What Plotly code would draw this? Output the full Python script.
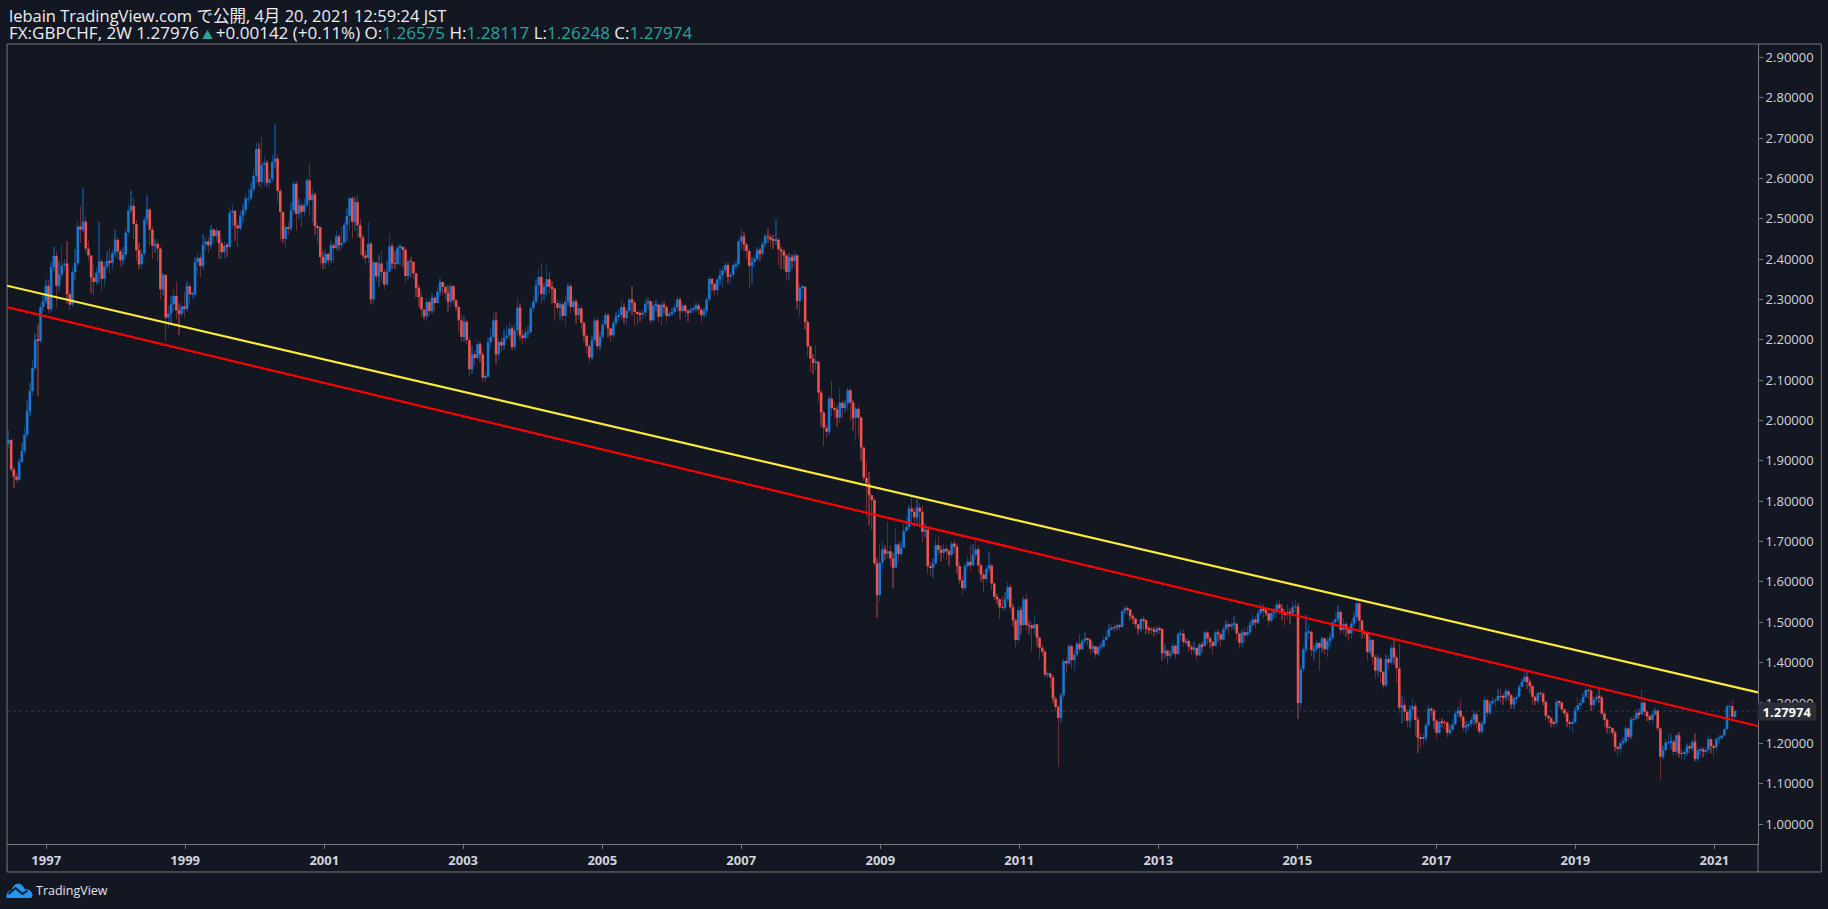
import pandas as pd
import plotly.graph_objects as go

# One value per 2W bar
closes = [
    1.952,1.878,1.861,1.853,1.897,1.924,1.965,2.023,2.073,2.130,
    2.200,2.197,2.281,2.296,2.334,2.276,2.380,2.408,2.334,2.362,
    2.384,2.389,2.313,2.287,2.368,2.390,2.481,2.473,2.493,2.426,
    2.409,2.354,2.343,2.366,2.394,2.351,2.382,2.396,2.390,2.415,
    2.448,2.419,2.397,2.411,2.466,2.521,2.532,2.487,2.422,2.387,
    2.413,2.498,2.523,2.473,2.433,2.438,2.426,2.325,2.361,2.255,
    2.265,2.288,2.309,2.273,2.264,2.283,2.276,2.333,2.313,2.314,
    2.392,2.403,2.383,2.436,2.444,2.434,2.473,2.457,2.470,2.440,
    2.417,2.433,2.430,2.515,2.520,2.483,2.476,2.508,2.521,2.550,
    2.551,2.572,2.607,2.673,2.591,2.634,2.639,2.589,2.598,2.641,
    2.649,2.569,2.517,2.450,2.479,2.477,2.520,2.587,2.512,2.533,
    2.517,2.535,2.595,2.546,2.560,2.482,2.479,2.405,2.390,2.413,
    2.397,2.434,2.427,2.456,2.434,2.440,2.485,2.507,2.551,2.492,
    2.541,2.484,2.453,2.409,2.403,2.438,2.300,2.392,2.357,2.389,
    2.368,2.337,2.369,2.432,2.389,2.388,2.428,2.430,2.423,2.358,
    2.394,2.393,2.365,2.328,2.306,2.275,2.258,2.294,2.271,2.304,
    2.291,2.319,2.343,2.331,2.316,2.294,2.333,2.298,2.281,2.248,
    2.207,2.245,2.199,2.127,2.164,2.155,2.189,2.164,2.106,2.108,
    2.193,2.207,2.248,2.164,2.195,2.186,2.205,2.211,2.228,2.182,
    2.223,2.280,2.211,2.204,2.218,2.219,2.278,2.295,2.335,2.356,
    2.313,2.331,2.350,2.331,2.327,2.291,2.279,2.288,2.259,2.294,
    2.333,2.281,2.295,2.261,2.278,2.242,2.210,2.184,2.156,2.199,
    2.248,2.184,2.207,2.238,2.261,2.228,2.211,2.242,2.258,2.261,
    2.281,2.254,2.272,2.300,2.292,2.269,2.264,2.262,2.267,2.290,
    2.296,2.248,2.285,2.287,2.257,2.287,2.281,2.259,2.265,2.269,
    2.280,2.300,2.271,2.285,2.271,2.267,2.275,2.277,2.285,2.275,
    2.261,2.271,2.300,2.351,2.339,2.323,2.349,2.360,2.372,2.385,
    2.356,2.361,2.385,2.387,2.444,2.456,2.436,2.420,2.383,2.393,
    2.401,2.422,2.413,2.438,2.456,2.455,2.448,2.447,2.448,2.424,
    2.419,2.409,2.368,2.405,2.395,2.409,2.296,2.329,2.331,2.244,
    2.184,2.153,2.143,2.145,2.069,2.020,1.982,1.972,2.054,2.031,
    2.027,2.007,2.044,2.031,2.042,2.075,2.044,2.006,2.029,2.007,
    1.933,1.858,1.844,1.815,1.803,1.646,1.567,1.648,1.681,1.670,
    1.676,1.658,1.635,1.693,1.669,1.685,1.726,1.736,1.782,1.774,
    1.760,1.784,1.774,1.724,1.730,1.639,1.635,1.646,1.691,1.679,
    1.672,1.682,1.676,1.667,1.695,1.687,1.639,1.604,1.585,1.639,
    1.650,1.641,1.667,1.681,1.641,1.618,1.607,1.633,1.641,1.596,
    1.563,1.557,1.537,1.536,1.557,1.587,1.537,1.505,1.456,1.530,
    1.493,1.557,1.493,1.492,1.485,1.495,1.462,1.437,1.427,1.371,
    1.373,1.363,1.311,1.290,1.263,1.319,1.404,1.398,1.441,1.406,
    1.420,1.447,1.433,1.454,1.459,1.457,1.434,1.441,1.421,1.439,
    1.440,1.456,1.464,1.483,1.487,1.486,1.492,1.489,1.528,1.534,
    1.532,1.515,1.509,1.495,1.483,1.507,1.505,1.484,1.483,1.482,
    1.476,1.484,1.483,1.423,1.430,1.417,1.423,1.442,1.421,1.470,
    1.472,1.451,1.454,1.439,1.432,1.437,1.418,1.445,1.441,1.475,
    1.460,1.451,1.441,1.475,1.470,1.457,1.483,1.495,1.489,1.495,
    1.496,1.472,1.449,1.475,1.468,1.476,1.493,1.507,1.499,1.522,
    1.534,1.530,1.522,1.504,1.523,1.526,1.544,1.534,1.526,1.518,
    1.526,1.522,1.538,1.539,1.300,1.384,1.433,1.475,1.476,1.431,
    1.433,1.449,1.437,1.460,1.433,1.454,1.462,1.500,1.508,1.526,
    1.481,1.495,1.482,1.472,1.497,1.512,1.547,1.504,1.476,1.472,
    1.426,1.456,1.414,1.380,1.410,1.377,1.344,1.409,1.400,1.437,
    1.413,1.386,1.288,1.295,1.278,1.256,1.284,1.292,1.258,1.214,
    1.212,1.214,1.245,1.286,1.281,1.256,1.226,1.253,1.252,1.251,
    1.226,1.234,1.247,1.274,1.281,1.266,1.239,1.245,1.248,1.258,
    1.272,1.251,1.229,1.248,1.307,1.276,1.299,1.305,1.307,1.317,
    1.315,1.314,1.329,1.319,1.296,1.311,1.315,1.340,1.352,1.365,
    1.352,1.342,1.315,1.305,1.324,1.323,1.303,1.268,1.262,1.251,
    1.250,1.303,1.301,1.284,1.274,1.253,1.248,1.253,1.282,1.295,
    1.300,1.315,1.332,1.330,1.295,1.309,1.315,1.314,1.274,1.258,
    1.239,1.238,1.226,1.191,1.186,1.201,1.204,1.237,1.216,1.259,
    1.260,1.276,1.272,1.301,1.278,1.267,1.258,1.272,1.281,1.237,
    1.167,1.183,1.202,1.203,1.204,1.179,1.220,1.175,1.174,1.177,
    1.193,1.187,1.204,1.161,1.183,1.185,1.179,1.183,1.210,1.193,
    1.190,1.211,1.212,1.219,1.235,1.291,1.292,1.26575,1.27974,
]
highs = [
    1.976,1.955,1.885,1.870,1.905,1.945,1.985,2.050,2.095,2.150,
    2.215,2.238,2.292,2.315,2.350,2.349,2.392,2.430,2.420,2.395,
    2.435,2.400,2.444,2.320,2.380,2.425,2.497,2.532,2.577,2.505,
    2.445,2.400,2.385,2.380,2.492,2.400,2.395,2.420,2.430,2.425,
    2.473,2.455,2.425,2.430,2.480,2.535,2.570,2.552,2.497,2.440,
    2.425,2.505,2.558,2.527,2.482,2.450,2.445,2.430,2.365,2.325,
    2.285,2.310,2.325,2.344,2.290,2.295,2.320,2.345,2.340,2.320,
    2.405,2.415,2.412,2.462,2.455,2.452,2.484,2.476,2.478,2.472,
    2.450,2.445,2.440,2.530,2.535,2.515,2.492,2.520,2.535,2.560,
    2.574,2.590,2.625,2.688,2.688,2.704,2.655,2.645,2.615,2.660,
    2.734,2.660,2.575,2.500,2.485,2.490,2.540,2.595,2.592,2.550,
    2.540,2.550,2.600,2.636,2.575,2.565,2.490,2.480,2.420,2.425,
    2.415,2.445,2.440,2.470,2.460,2.480,2.492,2.525,2.556,2.555,
    2.555,2.558,2.500,2.460,2.420,2.492,2.442,2.400,2.392,2.410,
    2.420,2.375,2.395,2.463,2.440,2.420,2.435,2.438,2.432,2.430,
    2.400,2.405,2.395,2.340,2.335,2.320,2.270,2.305,2.300,2.315,
    2.310,2.330,2.352,2.345,2.335,2.336,2.340,2.336,2.300,2.285,
    2.262,2.260,2.250,2.205,2.185,2.175,2.200,2.195,2.172,2.120,
    2.205,2.230,2.265,2.268,2.205,2.205,2.225,2.235,2.245,2.235,
    2.240,2.305,2.290,2.225,2.230,2.235,2.285,2.310,2.350,2.375,
    2.391,2.340,2.385,2.368,2.345,2.330,2.300,2.295,2.295,2.310,
    2.340,2.340,2.305,2.300,2.290,2.285,2.245,2.215,2.190,2.210,
    2.255,2.255,2.220,2.250,2.270,2.265,2.230,2.250,2.270,2.275,
    2.300,2.290,2.280,2.305,2.333,2.300,2.272,2.270,2.275,2.300,
    2.305,2.298,2.295,2.300,2.290,2.295,2.295,2.285,2.272,2.280,
    2.290,2.308,2.305,2.292,2.290,2.275,2.282,2.285,2.292,2.290,
    2.280,2.280,2.305,2.358,2.352,2.340,2.355,2.375,2.382,2.395,
    2.390,2.368,2.392,2.395,2.450,2.475,2.467,2.442,2.425,2.405,
    2.410,2.430,2.428,2.445,2.462,2.475,2.462,2.460,2.498,2.452,
    2.430,2.425,2.412,2.415,2.412,2.420,2.412,2.340,2.335,2.332,
    2.250,2.186,2.165,2.186,2.150,2.075,2.025,1.990,2.060,2.097,
    2.045,2.035,2.079,2.050,2.050,2.083,2.080,2.050,2.035,2.035,
    2.010,1.935,1.899,1.873,1.818,1.810,1.660,1.695,1.700,1.690,
    1.749,1.690,1.672,1.732,1.700,1.700,1.745,1.760,1.790,1.809,
    1.785,1.805,1.795,1.790,1.745,1.700,1.650,1.660,1.710,1.712,
    1.690,1.695,1.690,1.680,1.700,1.705,1.695,1.650,1.615,1.645,
    1.665,1.690,1.694,1.703,1.690,1.645,1.625,1.640,1.676,1.645,
    1.600,1.570,1.560,1.565,1.575,1.600,1.595,1.545,1.510,1.540,
    1.537,1.565,1.570,1.505,1.500,1.518,1.492,1.465,1.445,1.430,
    1.380,1.378,1.368,1.318,1.295,1.325,1.410,1.412,1.445,1.445,
    1.430,1.452,1.470,1.460,1.475,1.462,1.460,1.448,1.440,1.445,
    1.450,1.465,1.480,1.495,1.495,1.495,1.497,1.495,1.532,1.540,
    1.540,1.530,1.520,1.510,1.495,1.510,1.515,1.505,1.490,1.488,
    1.488,1.490,1.490,1.485,1.445,1.432,1.430,1.450,1.445,1.475,
    1.482,1.482,1.462,1.458,1.445,1.452,1.435,1.450,1.452,1.480,
    1.478,1.465,1.455,1.480,1.480,1.475,1.490,1.505,1.500,1.500,
    1.515,1.500,1.475,1.482,1.485,1.490,1.503,1.520,1.515,1.530,
    1.548,1.545,1.535,1.525,1.535,1.535,1.552,1.556,1.545,1.532,
    1.545,1.535,1.552,1.555,1.548,1.393,1.440,1.518,1.495,1.480,
    1.445,1.456,1.450,1.465,1.462,1.465,1.472,1.505,1.525,1.543,
    1.530,1.510,1.500,1.492,1.505,1.525,1.555,1.552,1.505,1.480,
    1.475,1.465,1.458,1.420,1.420,1.415,1.380,1.420,1.418,1.445,
    1.456,1.420,1.447,1.319,1.310,1.285,1.295,1.311,1.300,1.265,
    1.225,1.225,1.250,1.295,1.290,1.285,1.260,1.260,1.262,1.258,
    1.255,1.245,1.255,1.280,1.290,1.307,1.270,1.255,1.255,1.265,
    1.280,1.278,1.255,1.255,1.315,1.312,1.305,1.315,1.312,1.335,
    1.336,1.322,1.335,1.332,1.322,1.315,1.322,1.345,1.360,1.383,
    1.378,1.358,1.345,1.318,1.328,1.330,1.326,1.305,1.272,1.265,
    1.258,1.310,1.306,1.305,1.288,1.278,1.256,1.260,1.290,1.315,
    1.310,1.325,1.340,1.338,1.335,1.318,1.322,1.336,1.320,1.278,
    1.262,1.245,1.240,1.232,1.195,1.208,1.215,1.245,1.240,1.265,
    1.270,1.285,1.285,1.332,1.308,1.282,1.270,1.280,1.288,1.285,
    1.240,1.195,1.212,1.225,1.222,1.210,1.225,1.228,1.185,1.185,
    1.200,1.200,1.212,1.225,1.190,1.192,1.190,1.190,1.220,1.212,
    1.198,1.215,1.220,1.225,1.240,1.295,1.299,1.307,1.28117,
]
lows = [
    1.930,1.872,1.833,1.845,1.850,1.895,1.918,1.960,2.010,2.062,
    2.125,2.060,2.190,2.270,2.290,2.265,2.270,2.370,2.280,2.320,
    2.350,2.370,2.290,2.275,2.280,2.350,2.385,2.440,2.465,2.415,
    2.395,2.315,2.310,2.335,2.340,2.320,2.330,2.375,2.365,2.375,
    2.405,2.400,2.380,2.385,2.400,2.460,2.515,2.450,2.395,2.375,
    2.375,2.405,2.485,2.435,2.400,2.415,2.395,2.300,2.310,2.197,
    2.230,2.240,2.270,2.250,2.211,2.258,2.255,2.270,2.290,2.300,
    2.305,2.360,2.355,2.375,2.420,2.415,2.425,2.440,2.445,2.400,
    2.400,2.400,2.405,2.425,2.480,2.445,2.430,2.470,2.490,2.510,
    2.535,2.545,2.565,2.590,2.580,2.575,2.580,2.580,2.575,2.590,
    2.625,2.540,2.445,2.440,2.430,2.460,2.470,2.510,2.470,2.500,
    2.480,2.505,2.530,2.510,2.490,2.460,2.440,2.385,2.375,2.375,
    2.385,2.390,2.390,2.420,2.420,2.425,2.450,2.445,2.470,2.451,
    2.470,2.455,2.410,2.400,2.385,2.390,2.288,2.290,2.345,2.330,
    2.345,2.325,2.335,2.370,2.375,2.375,2.385,2.385,2.380,2.340,
    2.350,2.355,2.350,2.305,2.280,2.255,2.250,2.245,2.260,2.265,
    2.268,2.290,2.310,2.310,2.300,2.270,2.280,2.285,2.272,2.219,
    2.195,2.195,2.190,2.110,2.115,2.135,2.150,2.145,2.095,2.095,
    2.110,2.180,2.200,2.140,2.150,2.170,2.175,2.200,2.200,2.175,
    2.175,2.210,2.200,2.190,2.195,2.205,2.215,2.270,2.290,2.305,
    2.290,2.298,2.310,2.315,2.290,2.248,2.265,2.250,2.248,2.235,
    2.285,2.265,2.270,2.240,2.250,2.225,2.195,2.165,2.145,2.150,
    2.190,2.175,2.175,2.200,2.235,2.205,2.195,2.205,2.235,2.245,
    2.250,2.240,2.235,2.265,2.260,2.235,2.238,2.245,2.250,2.255,
    2.275,2.240,2.245,2.270,2.245,2.235,2.265,2.245,2.255,2.260,
    2.262,2.270,2.250,2.265,2.255,2.245,2.260,2.265,2.270,2.262,
    2.245,2.255,2.258,2.295,2.320,2.310,2.310,2.335,2.330,2.365,
    2.340,2.335,2.350,2.375,2.380,2.425,2.420,2.400,2.328,2.339,
    2.380,2.395,2.395,2.405,2.430,2.440,2.430,2.425,2.435,2.385,
    2.375,2.375,2.345,2.350,2.375,2.380,2.275,2.258,2.300,2.225,
    2.160,2.120,2.115,2.125,2.045,1.985,1.937,1.955,1.965,2.010,
    2.005,1.985,1.995,2.005,2.020,2.025,2.000,1.975,1.949,1.960,
    1.900,1.850,1.761,1.740,1.730,1.640,1.511,1.551,1.630,1.655,
    1.660,1.640,1.584,1.640,1.650,1.665,1.690,1.725,1.730,1.745,
    1.735,1.745,1.735,1.700,1.710,1.620,1.615,1.610,1.640,1.665,
    1.650,1.660,1.655,1.640,1.660,1.670,1.620,1.595,1.570,1.580,
    1.630,1.625,1.640,1.655,1.625,1.600,1.575,1.600,1.625,1.580,
    1.555,1.545,1.509,1.530,1.530,1.550,1.530,1.490,1.439,1.450,
    1.470,1.490,1.480,1.470,1.427,1.470,1.440,1.408,1.415,1.365,
    1.362,1.340,1.300,1.280,1.143,1.251,1.310,1.375,1.395,1.385,
    1.380,1.415,1.425,1.430,1.448,1.442,1.420,1.425,1.412,1.415,
    1.432,1.435,1.455,1.475,1.480,1.475,1.480,1.480,1.485,1.520,
    1.520,1.505,1.495,1.485,1.470,1.475,1.480,1.470,1.470,1.470,
    1.465,1.470,1.472,1.405,1.410,1.395,1.410,1.420,1.410,1.420,
    1.455,1.440,1.445,1.425,1.420,1.425,1.405,1.415,1.425,1.445,
    1.445,1.435,1.420,1.445,1.450,1.440,1.455,1.480,1.470,1.480,
    1.480,1.455,1.435,1.440,1.450,1.462,1.470,1.490,1.485,1.495,
    1.515,1.510,1.515,1.490,1.498,1.510,1.518,1.520,1.505,1.490,
    1.505,1.495,1.515,1.525,1.260,1.282,1.375,1.425,1.460,1.415,
    1.405,1.425,1.380,1.425,1.420,1.413,1.440,1.455,1.490,1.500,
    1.470,1.470,1.465,1.455,1.460,1.490,1.500,1.480,1.460,1.462,
    1.405,1.420,1.395,1.360,1.365,1.350,1.335,1.340,1.385,1.395,
    1.395,1.348,1.275,1.249,1.255,1.240,1.240,1.260,1.220,1.176,
    1.189,1.195,1.205,1.240,1.265,1.235,1.210,1.222,1.240,1.235,
    1.215,1.222,1.230,1.245,1.265,1.255,1.230,1.225,1.232,1.240,
    1.245,1.235,1.222,1.225,1.245,1.265,1.270,1.295,1.290,1.305,
    1.300,1.295,1.305,1.305,1.285,1.285,1.300,1.315,1.340,1.352,
    1.335,1.325,1.295,1.295,1.300,1.315,1.295,1.258,1.250,1.240,
    1.240,1.245,1.290,1.275,1.265,1.240,1.235,1.225,1.250,1.275,
    1.285,1.305,1.315,1.310,1.280,1.285,1.300,1.300,1.268,1.240,
    1.225,1.225,1.215,1.180,1.167,1.175,1.195,1.200,1.205,1.210,
    1.250,1.260,1.262,1.270,1.268,1.255,1.250,1.250,1.270,1.230,
    1.109,1.160,1.180,1.195,1.185,1.170,1.170,1.165,1.160,1.160,
    1.170,1.175,1.180,1.155,1.155,1.170,1.165,1.170,1.175,1.175,
    1.165,1.180,1.200,1.212,1.225,1.235,1.260,1.255,1.26248,
]
first_open = 1.943

# Trend lines, ends on the edges of the chart
trend_x = ["1996-06-09", "2021-08-18"]
yellow_y = [2.334, 1.326]
red_y = [2.281, 1.2428]

year_ticks = ["1997", "1999", "2001", "2003", "2005", "2007", "2009", "2011", "2013", "2015", "2017", "2019", "2021"]
last_price = 1.27974

BG = "#131722"
FRAME = "#787878"
TEXT = "#d1d4dc"
HEAD = "#eceef2"
TEAL = "#26a69a"
FONT = "Open Sans, Noto Sans CJK JP, sans-serif"

# Left, right, top and bottom of the plot area in pixels
LEFT, RIGHT, TOP, BOTTOM = 6.5, 1757.7, 43.5, 844


def px(x):
    return (x - LEFT) / (RIGHT - LEFT)


def py(y):
    return (BOTTOM - y) / (BOTTOM - TOP)


def pt(x, y):
    return f"{px(x):.5f},{py(y):.5f}"


dates = pd.date_range(end="2021-04-19", periods=len(closes), freq="14D")
opens = [first_open] + closes[:-1]

df = pd.DataFrame({"date": dates, "open": opens, "high": highs, "low": lows, "close": closes})
df["up"] = df["close"] >= df["open"]
df["body_low"] = df[["open", "close"]].min(axis=1)
df["body"] = (df["close"] - df["open"]).abs().clip(lower=0.0008)

DAY = 24 * 3600 * 1000

fig = go.Figure()

# Wicks first, bodies over them
fig.add_trace(go.Bar(
    x=df["date"],
    y=df["high"] - df["low"],
    base=df["low"],
    width=2 * DAY,
    marker={"color": ["#174173" if u else "#6a2f35" for u in df["up"]], "line": {"width": 0}},
    hoverinfo="skip",
))
fig.add_trace(go.Bar(
    x=df["date"],
    y=df["body"],
    base=df["body_low"],
    width=13.5 * DAY,
    marker={"color": ["#1976d2" if u else "#ef5350" for u in df["up"]], "line": {"width": 0}},
    hoverinfo="skip",
))

fig.add_trace(go.Scatter(x=trend_x, y=yellow_y, mode="lines", line={"color": "#ffeb3b", "width": 2.2}, hoverinfo="skip"))
fig.add_trace(go.Scatter(x=trend_x, y=red_y, mode="lines", line={"color": "#ff0000", "width": 2.2}, hoverinfo="skip"))

fig.update_layout(
    width=1828,
    height=909,
    autosize=False,
    margin={"l": LEFT, "r": 1828 - RIGHT, "t": TOP, "b": 909 - BOTTOM, "pad": 0},
    paper_bgcolor=BG,
    plot_bgcolor=BG,
    showlegend=False,
    barmode="overlay",
    font={"family": FONT, "color": TEXT},
    xaxis={
        "type": "date",
        "range": trend_x,
        "tickvals": [y + "-01-01" for y in year_ticks],
        "ticktext": year_ticks,
        "ticks": "outside",
        "ticklen": 4,
        "tickcolor": FRAME,
        "tickfont": {"size": 13, "color": TEXT, "weight": 700},
        "showgrid": False,
        "zeroline": False,
        "showline": True,
        "linecolor": FRAME,
        "linewidth": 1,
    },
    yaxis={
        "side": "right",
        "range": [0.9505, 2.933],
        "tick0": 1.0,
        "dtick": 0.1,
        "tickformat": ".5f",
        "ticks": "outside",
        "ticklen": 4,
        "tickcolor": FRAME,
        "tickfont": {"size": 13, "color": TEXT},
        "showgrid": False,
        "zeroline": False,
        "showline": True,
        "linecolor": FRAME,
        "linewidth": 1,
    },
)

# Outer frame, last price line and its small tick
fig.add_shape(type="rect", xref="paper", yref="paper", x0=0, x1=px(1821), y0=py(872), y1=1,
              line={"color": FRAME, "width": 1}, layer="below")
fig.add_shape(type="line", xref="paper", yref="y", x0=0, x1=1, y0=last_price, y1=last_price,
              line={"color": "#363a45", "width": 1, "dash": "dot"}, layer="below")
fig.add_shape(type="line", xref="paper", yref="paper", x0=1, x1=1, y0=py(844), y1=py(872),
              line={"color": FRAME, "width": 1})

# Price label over the axis
fig.add_annotation(xref="paper", yref="y", x=px(1787), y=last_price, xanchor="center", text="<b>1.27974</b>", showarrow=False,
                   font={"size": 13, "color": "#ffffff"}, bgcolor="#2a2e39", borderpad=1, width=56, height=15)
fig.add_shape(type="line", xref="paper", yref="y", x0=1, x1=px(1762), y0=last_price, y1=last_price,
              line={"color": "#ffffff", "width": 1.5})

# Header lines
fig.add_annotation(xref="paper", yref="paper", x=px(6), y=py(15), xanchor="left", yanchor="middle", showarrow=False,
                   text="lebain TradingView.com で公開, 4月 20, 2021 12:59:24 JST",
                   font={"size": 16.5, "color": HEAD, "family": FONT})
green = f'<span style="color:{TEAL}">%s</span>'
triangle = f'<span style="color:{TEAL};font-size:11px"> ▲ </span>'
fig.add_annotation(xref="paper", yref="paper", x=px(6), y=py(32), xanchor="left", yanchor="middle", showarrow=False,
                   text="FX:GBPCHF, 2W 1.27976" + triangle + "+0.00142 (+0.11%) O:" + green % "1.26575"
                        + " H:" + green % "1.28117" + " L:" + green % "1.26248" + " C:" + green % "1.27974",
                   font={"size": 17, "color": HEAD, "family": FONT})

# TradingView logo
cloud = ("M" + pt(6, 898) + " Q" + pt(5.5, 891) + " " + pt(11, 890) + " Q" + pt(13, 884) + " " + pt(18, 883.5)
         + " Q" + pt(22, 884) + " " + pt(24, 889) + " Q" + pt(31, 889) + " " + pt(32, 895) + " Q" + pt(32, 898) + " " + pt(29, 898) + " Z")
fig.add_shape(type="path", xref="paper", yref="paper", path=cloud, fillcolor="#2196f3", line={"width": 0})
fig.add_shape(type="path", xref="paper", yref="paper",
              path="M" + pt(8, 894) + " L" + pt(15, 888) + " L" + pt(22, 894) + " L" + pt(27, 890.5),
              line={"color": BG, "width": 2})
fig.add_annotation(xref="paper", yref="paper", x=px(34), y=py(890.5), xanchor="left", yanchor="middle", showarrow=False,
                   text="TradingView", font={"size": 12.5, "color": "#e0e3eb", "family": FONT})

fig.write_html("out.html", config={"displayModeBar": False},
               post_script="document.body.style.margin='0';document.body.style.background='#131722';")
